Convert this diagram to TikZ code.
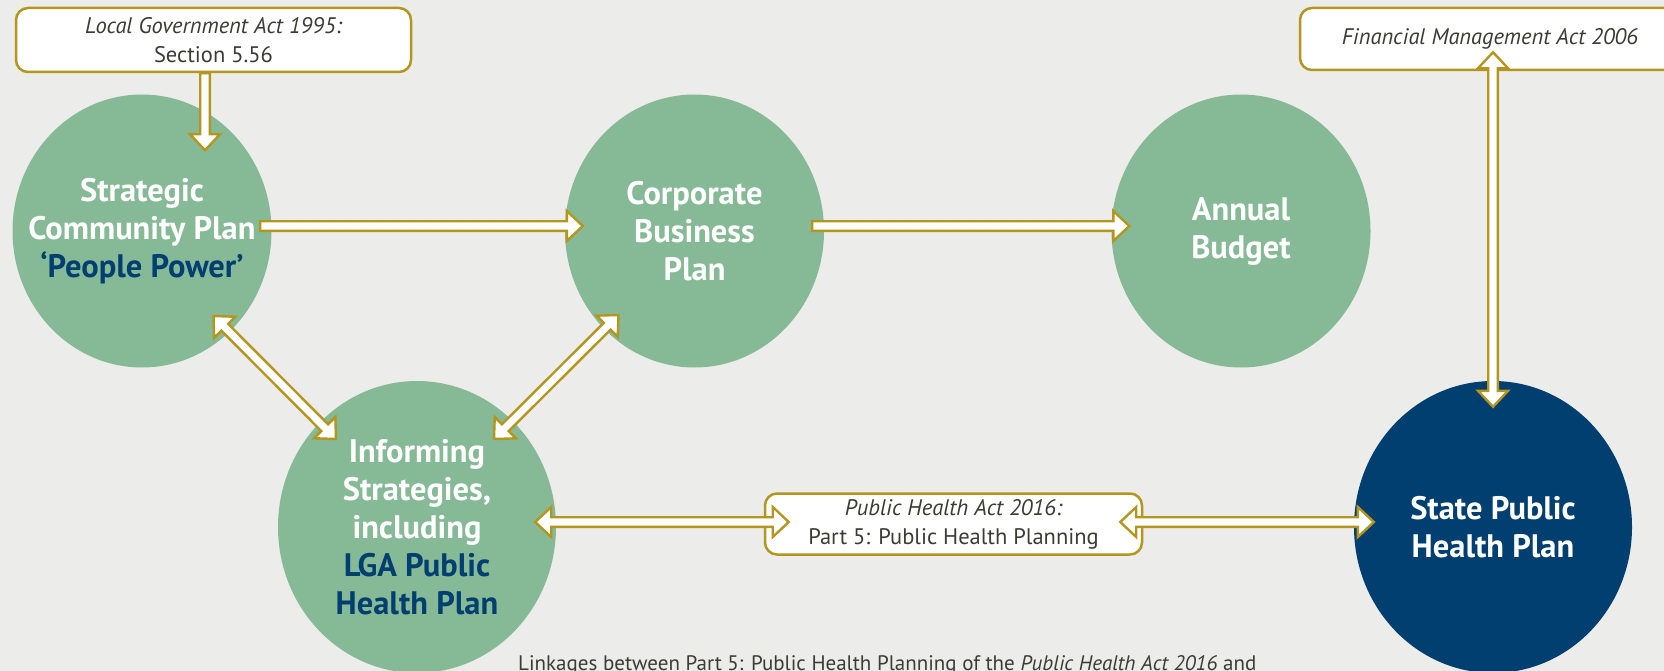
\documentclass[tikz,border=0pt]{standalone}
\usepackage{fontspec}
\setmainfont{PT Sans}
\usetikzlibrary{shapes.geometric,calc}
\definecolor{bg}{RGB}{236,236,234}
\definecolor{circgreen}{RGB}{134,186,150}
\definecolor{navy}{RGB}{0,63,112}
\definecolor{gold}{RGB}{180,150,30}
\definecolor{txtgray}{RGB}{60,60,52}
\tikzset{
  plan/.style={ellipse, fill=circgreen, inner sep=0pt, minimum width=259pt, minimum height=273pt},
  bigplan/.style={plan, minimum width=278pt, minimum height=292pt},
  plantext/.style={text=white, align=center, inner sep=0pt, font=\fontsize{32.5}{38}\selectfont\bfseries},
  actbox/.style={draw=gold, line width=2.5pt, fill=white, rounded corners=12pt, align=center,
    text=txtgray, font=\fontsize{22.5}{29}\selectfont, minimum width=377pt, minimum height=61pt, inner sep=0pt},
  barrow/.style={draw=gold, fill=white, line width=2.4pt, line join=miter},
  captext/.style={font=\fontsize{21}{26}\selectfont, text=txtgray, inner sep=0pt}
}
\newcommand{\blkarrowone}[2]{%
  \coordinate (bh) at ($(#2)!16pt!(#1)$);
  \draw[barrow] ($(#1)!4.8pt!90:(#2)$) -- ($(bh)!4.8pt!90:(#2)$) -- ($(bh)!15pt!90:(#2)$) -- (#2)
    -- ($(bh)!15pt!-90:(#2)$) -- ($(bh)!4.8pt!-90:(#2)$) -- ($(#1)!4.8pt!-90:(#2)$) -- cycle;
}
\newcommand{\blkarrowtwo}[2]{%
  \coordinate (bha) at ($(#1)!16pt!(#2)$);
  \coordinate (bhb) at ($(#2)!16pt!(#1)$);
  \draw[barrow] (#1) -- ($(bha)!15pt!90:(#2)$) -- ($(bha)!4.8pt!90:(#2)$) -- ($(bhb)!4.8pt!90:(#2)$)
    -- ($(bhb)!15pt!90:(#2)$) -- (#2) -- ($(bhb)!15pt!-90:(#2)$) -- ($(bhb)!4.8pt!-90:(#2)$)
    -- ($(bha)!4.8pt!-90:(#2)$) -- ($(bha)!15pt!-90:(#2)$) -- cycle;
}
\begin{document}
\begin{tikzpicture}[x=1pt,y=-1pt]
\fill[bg] (0,0) rectangle (1664,671);
\useasboundingbox (0,0) rectangle (1664,671);

% plans
\node[plan, label={[plantext]center:{Strategic\\Community Plan\\\textcolor{navy}{‘People Power’}}}] (scp) at (142,231) {};
\node[plan, label={[plantext]center:{Corporate\\Business\\Plan}}] (cbp) at (694.5,231) {};
\node[plan, label={[plantext]center:{Annual\\Budget}}] (ab) at (1241,231) {};
\node[bigplan, label={[plantext]center:{Informing\\Strategies,\\including\\\textcolor{navy}{LGA Public}\\\textcolor{navy}{Health Plan}}}] (inf) at (417,527) {};
\node[bigplan, fill=navy, label={[plantext]center:{State Public\\Health Plan}}] (sphp) at (1493,527) {};

% act boxes
\node[actbox, minimum width=395pt, minimum height=64pt] (lga) at (213.5,40) {{\itshape Local Government Act 1995:}\\Section 5.56};
\node[actbox, minimum width=380pt, minimum height=62pt] (fin) at (1490,39) {\itshape Financial Management Act 2006};
\node[actbox] (ph) at (953.5,524) {{\itshape Public Health Act 2016:}\\Part 5: Public Health Planning};

% caption
\node[captext, anchor=base west] (cap) at (518,670) {Linkages between Part 5: Public Health Planning of the \textit{Public Health Act 2016} and};

% connector end points
\coordinate (a1s) at ($(lga.south)+(-8.5,0)$);
\coordinate (t1) at ($(a1s)+(0,77)$);
\coordinate (a2s) at ($(scp.east)+(-11.5,-5)$);
\coordinate (a2t) at ($(cbp.west)+(18,-5)$);
\coordinate (a3s) at ($(cbp.east)+(-12,-5)$);
\coordinate (a3t) at ($(ab.west)+(18,-5)$);
\coordinate (a4s) at ($(scp.center)+(71.5,85)$);
\coordinate (a4t) at ($(inf.center)+(-81,-88)$);
\coordinate (a5s) at ($(cbp.center)+(-76,84)$);
\coordinate (a5t) at ($(inf.center)+(77,-88)$);
\coordinate (a6s) at ($(inf.east)+(-21,-5)$);
\coordinate (a6t) at ($(ph.west)+(25,-2)$);
\coordinate (a7s) at ($(ph.east)+(-23,-2)$);
\coordinate (a7t) at ($(sphp.west)+(20,-5)$);
\coordinate (a8s) at ($(fin.south -| sphp.north)+(0,-19)$);
\coordinate (a8t) at ($(sphp.north)+(0,26)$);

% connectors
\blkarrowone{a1s}{t1}
\blkarrowone{a2s}{a2t}
\blkarrowone{a3s}{a3t}
\blkarrowtwo{a4s}{a4t}
\blkarrowtwo{a5s}{a5t}
\blkarrowtwo{a6s}{a6t}
\blkarrowtwo{a7s}{a7t}
\blkarrowtwo{a8s}{a8t}
\end{tikzpicture}
\end{document}
